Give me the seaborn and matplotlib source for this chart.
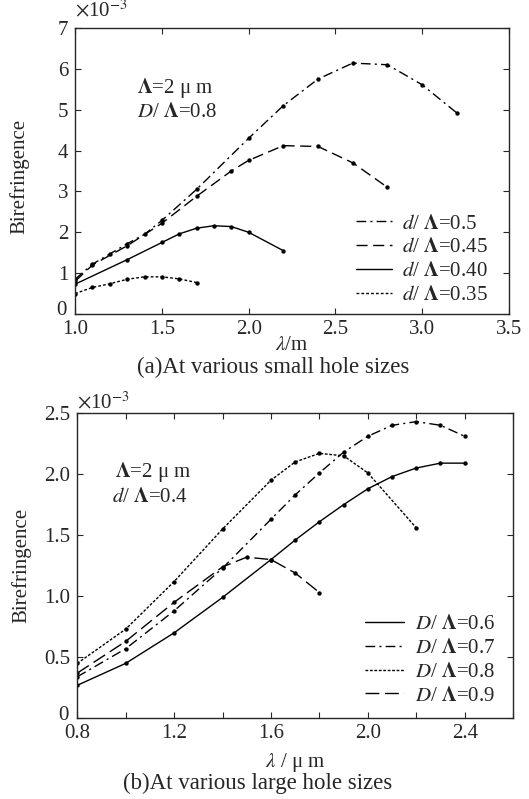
import numpy as np
import pandas as pd
import seaborn as sns
from matplotlib import pyplot as plt
from matplotlib.transforms import ScaledTranslation

# (a) small hole sizes, birefringence in units of 1e-3
a_labels = ["0.5", "0.45", "0.40", "0.35"]
a_x = [
    [1.0, 1.1, 1.2, 1.3, 1.4, 1.5, 1.7, 2.0, 2.2, 2.4, 2.6, 2.8, 3.0, 3.2],
    [1.0, 1.1, 1.3, 1.5, 1.7, 1.9, 2.0, 2.2, 2.4, 2.6, 2.8],
    [1.0, 1.3, 1.5, 1.6, 1.7, 1.8, 1.9, 2.0, 2.2],
    [1.0, 1.1, 1.2, 1.3, 1.4, 1.5, 1.6, 1.7],
]
a_y = [
    [0.85, 1.22, 1.47, 1.72, 1.95, 2.29, 3.05, 4.30, 5.10, 5.75, 6.14, 6.10, 5.61, 4.92],
    [0.80, 1.20, 1.67, 2.22, 2.88, 3.50, 3.76, 4.12, 4.10, 3.70, 3.10],
    [0.73, 1.33, 1.75, 1.96, 2.10, 2.16, 2.14, 2.00, 1.55],
    [0.50, 0.65, 0.74, 0.85, 0.91, 0.91, 0.86, 0.77],
]
a_styles = [(0, (7, 3, 1.5, 3)), (0, (8, 4)), "-", (0, (2, 1.5))]

# (b) large hole sizes
b_labels = ["0.6", "0.7", "0.8", "0.9"]
b_x = [
    [0.8, 1.0, 1.2, 1.4, 1.6, 1.7, 1.8, 1.9, 2.0, 2.1, 2.2, 2.3, 2.4],
    [0.8, 1.0, 1.2, 1.4, 1.6, 1.7, 1.8, 1.9, 2.0, 2.1, 2.2, 2.3, 2.4],
    [0.8, 1.0, 1.2, 1.4, 1.6, 1.7, 1.8, 1.9, 2.0, 2.2],
    [0.8, 1.0, 1.2, 1.4, 1.5, 1.6, 1.7, 1.8],
]
b_y = [
    [0.27, 0.45, 0.70, 0.99, 1.30, 1.46, 1.61, 1.75, 1.88, 1.98, 2.05, 2.09, 2.09],
    [0.34, 0.57, 0.88, 1.23, 1.63, 1.83, 2.01, 2.18, 2.31, 2.40, 2.43, 2.40, 2.31],
    [0.45, 0.73, 1.12, 1.55, 1.95, 2.10, 2.17, 2.15, 2.01, 1.56],
    [0.37, 0.63, 0.95, 1.24, 1.32, 1.30, 1.19, 1.03],
]
b_styles = ["-", (0, (7, 3, 1.5, 3)), (0, (2, 1.2)), (0, (10, 4))]

sns.set_style("ticks")
plt.rcParams["font.family"] = ["Liberation Serif", "DejaVu Serif"]
plt.rcParams["mathtext.fontset"] = "stix"
plt.rcParams["axes.linewidth"] = 1.0


def draw(ax, xs, ys, labels, styles, prefix):
    for x, y, lab, ls in zip(xs, ys, labels, styles):
        df = pd.DataFrame({"x": x, "y": y})
        sns.lineplot(data=df, x="x", y="y", ax=ax, color="black", linewidth=1.0,
                     linestyle=ls, label=prefix + "=" + lab)
        sns.scatterplot(data=df, x="x", y="y", ax=ax, color="black", s=10,
                        edgecolor="black", linewidth=0, legend=False)
    ax.tick_params(direction="in", top=True, right=True, labelsize=15, length=4)
    ax.tick_params(axis="x", pad=4)
    ax.tick_params(axis="y", pad=5)
    ax.set_ylabel("Birefringence", fontsize=15)


def lift_zero(ax, fig):
    # nudge the "0" tick label up so it clears the first x tick label
    lab = ax.get_yticklabels()[0]
    lab.set_transform(lab.get_transform() + ScaledTranslation(-1 / 72, 4 / 72, fig.dpi_scale_trans))


fig = plt.figure(figsize=(5.29, 7.99), dpi=100)

ax1 = fig.add_axes([0.142, 0.607, 0.820, 0.358])
draw(ax1, a_x, a_y, a_labels, a_styles, r"$d$/ $\mathbf{\Lambda}$")
ax1.set_xlim(1.0, 3.5)
ax1.set_ylim(0, 7)
ax1.set_xticks(np.arange(1.0, 3.51, 0.5))
ax1.set_xticklabels([f"{v:.1f}" for v in np.arange(1.0, 3.51, 0.5)])
ax1.set_yticks(range(0, 8))
ax1.set_xlabel(r"$\lambda$/m", fontsize=15, labelpad=-2)
ax1.yaxis.set_label_coords(-0.105, 0.48)
ax1.text(0.143, 0.79, r"$\mathbf{\Lambda}$=2 μ m", transform=ax1.transAxes, fontsize=15, va="center")
ax1.text(0.143, 0.705, r"$D$/ $\mathbf{\Lambda}$=0.8", transform=ax1.transAxes, fontsize=15, va="center")
ax1.text(0.0, 1.025, r"$\times$10$^{-3}$", transform=ax1.transAxes, fontsize=15, va="bottom")
ax1.legend(loc="lower right", bbox_to_anchor=(0.971, 0.003), frameon=False, fontsize=15,
           handlelength=1.7, labelspacing=0.2, handletextpad=0.5, borderaxespad=0)
lift_zero(ax1, fig)

ax2 = fig.add_axes([0.146, 0.101, 0.824, 0.382])
draw(ax2, b_x, b_y, b_labels, b_styles, r"$D$/ $\mathbf{\Lambda}$")
ax2.set_xlim(0.8, 2.6)
ax2.set_ylim(0, 2.5)
ax2.set_xticks(np.arange(0.8, 2.61, 0.2))
ax2.set_xticklabels([f"{v:.1f}" if i % 2 == 0 else "" for i, v in enumerate(np.arange(0.8, 2.61, 0.2))])
ax2.set_yticks(np.arange(0, 2.51, 0.5))
ax2.set_yticklabels(["0", "0.5", "1.0", "1.5", "2.0", "2.5"])
ax2.set_xlabel(r"$\lambda$ / μ m", fontsize=15, labelpad=6)
ax2.yaxis.set_label_coords(-0.105, 0.5)
ax2.text(0.087, 0.807, r"$\mathbf{\Lambda}$=2 μ m", transform=ax2.transAxes, fontsize=15, va="center")
ax2.text(0.08, 0.725, r"$d$/ $\mathbf{\Lambda}$=0.4", transform=ax2.transAxes, fontsize=15, va="center")
ax2.text(0.0, 1.0, r"$\times$10$^{-3}$", transform=ax2.transAxes, fontsize=15, va="bottom")
ax2.legend(loc="lower right", bbox_to_anchor=(0.978, 0.014), frameon=False, fontsize=15,
           handlelength=1.9, labelspacing=0.2, handletextpad=0.5, borderaxespad=0)
lift_zero(ax2, fig)

fig.text(0.517, 0.540, "(a)At various small hole sizes", ha="center", va="center", fontsize=16.5)
fig.text(0.487, 0.019, "(b)At various large hole sizes", ha="center", va="center", fontsize=16.5)

fig.savefig("out.png", dpi=100)
